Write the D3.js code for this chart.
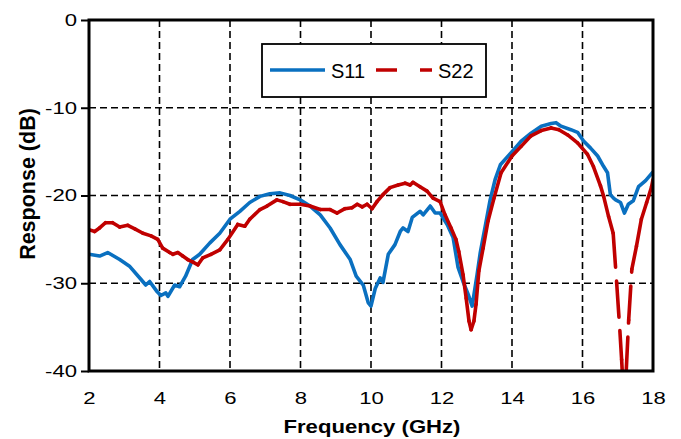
<!DOCTYPE html>
<html>
<head>
<meta charset="utf-8">
<script src="https://cdn.jsdelivr.net/npm/d3@7/dist/d3.min.js"></script>
<style>
  body { margin: 0; background: #fff; }
  text { font-family: "Liberation Sans", Arial, sans-serif; fill: #000; }
</style>
</head>
<body>
<svg id="chart" width="681" height="439"></svg>
<script>
var xTicks = [2, 4, 6, 8, 10, 12, 14, 16, 18];
var yTicks = [0, -10, -20, -30, -40];

var s11Freq = [2.0, 2.3, 2.53, 2.87, 3.16, 3.44, 3.61, 3.72, 3.92, 4.04, 4.18, 4.24, 4.43, 4.57, 4.74, 4.94,
  5.14, 5.43, 5.71, 6.0, 6.28, 6.56, 6.85, 7.13, 7.42, 7.7, 7.99, 8.27, 8.56, 8.84, 9.12, 9.41, 9.58, 9.78,
  9.92, 10.0, 10.12, 10.26, 10.34, 10.49, 10.68, 10.83, 10.91, 11.05, 11.17, 11.39, 11.48, 11.68, 11.82,
  11.96, 12.16, 12.33, 12.47, 12.61, 12.76, 12.87, 13.01, 13.1, 13.24, 13.38, 13.52, 13.67, 14.0, 14.26,
  14.54, 14.83, 15.11, 15.25, 15.39, 15.67, 15.86, 16.03, 16.23, 16.43, 16.6, 16.71, 16.79, 16.88, 16.94,
  17.08, 17.19, 17.3, 17.44, 17.59, 17.79, 18.0];
var s11Vals = [-26.7, -26.9, -26.5, -27.3, -28.1, -29.4, -30.2, -29.8, -30.9, -31.4, -31.1, -31.5, -30.2, -30.4, -29.2, -27.3,
  -26.7, -25.4, -24.3, -22.7, -21.8, -20.8, -20.1, -19.8, -19.7, -20.0, -20.5, -21.2, -22.2, -23.7, -25.6, -27.3, -29.2, -30.2,
  -32.2, -32.6, -30.6, -29.4, -29.9, -26.7, -25.6, -24.1, -23.7, -24.1, -22.5, -21.8, -22.2, -21.2, -22.0,
  -22.0, -23.3, -24.8, -28.2, -29.8, -31.3, -32.6, -29.0, -26.5, -23.5, -20.5, -18.2, -16.5, -15.0, -13.8,
  -12.9, -12.1, -11.8, -11.7, -12.1, -12.5, -12.8, -13.8, -14.6, -15.5, -16.7, -17.4, -19.9, -20.3, -20.5,
  -20.8, -22.0, -21.0, -20.6, -19.0, -18.3, -17.3];

var s22Freq = [2.0, 2.16, 2.3, 2.47, 2.67, 2.87, 3.1, 3.3, 3.53, 3.76, 3.95, 4.09, 4.29, 4.38, 4.52, 4.66, 4.8,
  4.95, 5.09, 5.23, 5.46, 5.71, 5.94, 6.22, 6.42, 6.56, 6.85, 7.05, 7.33, 7.5, 7.7, 7.99, 8.27, 8.56, 8.84,
  9.04, 9.26, 9.46, 9.61, 9.75, 9.89, 10.03, 10.17, 10.34, 10.54, 10.77, 10.97, 11.11, 11.19, 11.39, 11.59,
  11.76, 11.96, 12.1, 12.27, 12.41, 12.49, 12.61, 12.7, 12.78, 12.84, 12.92, 12.98, 13.06, 13.18, 13.32,
  13.49, 13.69, 14.0, 14.26, 14.54, 14.83, 15.11, 15.33, 15.58, 15.86, 16.14, 16.31, 16.51, 16.6, 16.74,
  16.87, 16.97, 17.06, 17.11, 17.18, 17.24, 17.31, 17.4, 17.53, 17.67, 17.82, 17.96, 18.0];
var s22Vals = [-23.9, -24.1, -23.7, -23.1, -23.1, -23.6, -23.4, -23.8, -24.3, -24.6, -25.0, -26.0, -26.5, -26.7, -26.5, -26.9, -27.3,
  -27.6, -27.9, -27.1, -26.7, -26.2, -25.0, -23.3, -23.5, -22.7, -21.6, -21.2, -20.5, -20.7, -21.0, -21.0, -21.2, -21.6, -21.6,
  -22.0, -21.5, -21.4, -21.0, -21.3, -21.0, -21.5, -20.7, -19.9, -19.1, -18.8, -18.6, -18.8, -18.5, -19.0, -19.5,
  -20.3, -20.7, -22.2, -23.7, -25.0, -26.4, -29.0, -31.7, -34.3, -35.3, -34.3, -32.4, -28.6, -26.0, -22.9,
  -20.3, -17.4, -15.5, -14.4, -13.2, -12.6, -12.3, -12.5, -13.1, -14.0, -15.3, -16.7, -18.9, -20.1, -22.4,
  -24.3, -30.0, -35.4, -38.7, -44.0, -40.0, -34.2, -28.4, -25.8, -22.7, -20.8, -19.0, -18.2];

var svg = d3.select("#chart"),
    margin = {left: 89, top: 20, right: 28, bottom: 68},
    width = 681 - margin.left - margin.right,
    height = 439 - margin.top - margin.bottom;

var x = d3.scaleLinear().domain([2, 18]).range([0, width]);
var y = d3.scaleLinear().domain([-40, 0]).range([height, 0]);

var blue = "#0A70C0", red = "#C00000";

var g = svg.append("g")
    .attr("transform", "translate(" + margin.left + "," + margin.top + ")");

g.append("clipPath").attr("id", "plotClip")
  .append("rect").attr("width", width).attr("height", height);

// grid
g.append("g").selectAll("line")
  .data(xTicks.slice(1, -1))
  .enter().append("line")
    .attr("x1", function(d) { return x(d); })
    .attr("x2", function(d) { return x(d); })
    .attr("y1", 0).attr("y2", height)
    .attr("stroke", "#000").attr("stroke-width", 1.6)
    .attr("stroke-dasharray", "7,4");

g.append("g").selectAll("line")
  .data(yTicks.slice(1, -1))
  .enter().append("line")
    .attr("y1", function(d) { return y(d); })
    .attr("y2", function(d) { return y(d); })
    .attr("x1", 0).attr("x2", width)
    .attr("stroke", "#000").attr("stroke-width", 1.6)
    .attr("stroke-dasharray", "7,4");

// axes (plain hyphen for negatives, like the original)
var fmt = function(d) { return String(d); };
var yAxis = g.append("g")
    .call(d3.axisLeft(y).tickValues(yTicks).tickFormat(fmt).tickSize(8).tickPadding(4));
var xAxis = g.append("g")
    .attr("transform", "translate(0," + height + ")")
    .call(d3.axisBottom(x).tickValues(xTicks).tickFormat(fmt).tickSize(0).tickPadding(21));

// the original labels are drawn a little wide, stretch them
[xAxis, yAxis].forEach(function(a) {
  a.select(".domain").remove();
  a.selectAll("line").attr("stroke", "#000").attr("stroke-width", 2);
  a.selectAll("text")
      .style("font-size", "17px")
      .style("font-family", "'Liberation Sans', Arial, sans-serif")
      .each(function() {
        var w = this.getComputedTextLength();
        d3.select(this).attr("textLength", w * 1.3).attr("lengthAdjust", "spacingAndGlyphs");
      });
});

var line = d3.line()
    .x(function(d) { return x(d[0]); })
    .y(function(d) { return y(d[1]); });

var s11 = d3.zip(s11Freq, s11Vals);
var s22 = d3.zip(s22Freq, s22Vals);

var plot = g.append("g").attr("clip-path", "url(#plotClip)");

plot.append("path")
    .datum(s11)
    .attr("d", line)
    .attr("fill", "none")
    .attr("stroke", blue)
    .attr("stroke-width", 3.6)
    .attr("stroke-linejoin", "round");

// long-dash pattern restarts on every segment, so short steps look solid
plot.append("g").selectAll("path")
  .data(d3.pairs(s22))
  .enter().append("path")
    .attr("d", line)
    .attr("fill", "none")
    .attr("stroke", red)
    .attr("stroke-width", 3.6)
    .attr("stroke-linecap", "round")
    .attr("stroke-dasharray", "34,14");

// frame
g.append("rect")
    .attr("width", width).attr("height", height)
    .attr("fill", "none").attr("stroke", "#000").attr("stroke-width", 3);

// legend
var lg = svg.append("g").attr("transform", "translate(262,44)");
lg.append("rect").attr("width", 224).attr("height", 53)
    .attr("fill", "#fff").attr("stroke", "#000").attr("stroke-width", 1.8);
lg.append("line").attr("x1", 8).attr("x2", 63).attr("y1", 26).attr("y2", 26)
    .attr("stroke", blue).attr("stroke-width", 3.6);
lg.append("text").attr("x", 69).attr("y", 33.5).style("font-size", "20px").text("S11");
lg.append("line").attr("x1", 114).attr("x2", 170).attr("y1", 26).attr("y2", 26)
    .attr("stroke", red).attr("stroke-width", 3.6).attr("stroke-dasharray", "21,23");
lg.append("text").attr("x", 176).attr("y", 33.5).style("font-size", "20px").text("S22");

// axis titles
svg.append("text")
    .attr("x", margin.left + width / 2 + 1).attr("y", 433)
    .attr("text-anchor", "middle")
    .attr("textLength", 177).attr("lengthAdjust", "spacingAndGlyphs")
    .style("font-size", "18.5px").style("font-weight", "bold")
    .text("Frequency (GHz)");

svg.append("text")
    .attr("transform", "translate(35,184) rotate(-90)")
    .attr("text-anchor", "middle")
    .style("font-size", "21.5px").style("font-weight", "bold")
    .text("Response (dB)");
</script>
</body>
</html>
